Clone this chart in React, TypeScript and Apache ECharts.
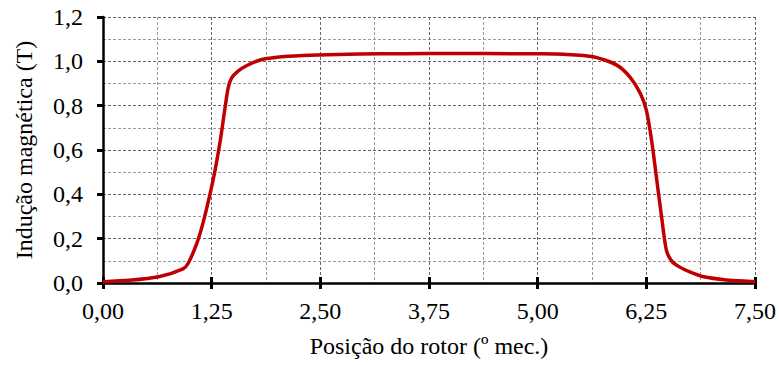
import React, { useEffect, useRef } from "react";
import * as echarts from "echarts";

const positions = [0, 0.3, 0.64, 0.92, 0.98, 1.08, 1.15, 1.23, 1.29, 1.35, 1.4, 1.44, 1.48, 1.55, 1.65, 1.8, 2.0, 2.3, 2.7, 3.2, 3.75, 4.4, 5.0, 5.3, 5.64, 5.91, 6.06, 6.18, 6.25, 6.31, 6.37, 6.43, 6.48, 6.54, 6.62, 6.75, 6.91, 7.17, 7.5];
const induction = [0.006, 0.012, 0.028, 0.064, 0.089, 0.18, 0.27, 0.4, 0.51, 0.645, 0.78, 0.88, 0.925, 0.955, 0.98, 1.005, 1.018, 1.026, 1.031, 1.034, 1.035, 1.035, 1.034, 1.032, 1.021, 0.983, 0.93, 0.856, 0.78, 0.645, 0.465, 0.284, 0.149, 0.1, 0.075, 0.05, 0.028, 0.014, 0.006];

const xTitle = "Posição do rotor (º mec.)";
const yTitle = "Indução magnética (T)";

const FONT = "Liberation Serif";
const FS = 24;

export default function App() {
  const ref = useRef<HTMLDivElement>(null);
  useEffect(() => {
    if (!ref.current) return;
    const chart = echarts.init(ref.current, undefined, { renderer: "svg" });
    const majorSplit = { show: true, lineStyle: { color: "#666", width: 1, type: [3, 2] as any } };
    const minorSplit = { show: true, lineStyle: { color: "#9a9a9a", width: 1, type: [3, 2] as any } };
    chart.setOption({
      animation: false,
      backgroundColor: "#fff",
      textStyle: { fontFamily: FONT },
      grid: { left: 103, right: 24, top: 17, bottom: 82, containLabel: false },
      xAxis: [
        {
          type: "value",
          min: 0,
          max: 7.5,
          interval: 1.25,
          name: xTitle,
          nameLocation: "middle",
          nameGap: 51,
          nameTextStyle: { fontFamily: FONT, fontSize: FS, color: "#000" },
          axisLine: { show: true, lineStyle: { color: "#000", width: 2.5 } },
          axisTick: { show: true, length: 6, lineStyle: { color: "#000", width: 3 } },
          axisLabel: {
            margin: 16,
            fontFamily: FONT,
            fontSize: FS,
            color: "#000",
            formatter: (v: number) => v.toFixed(2).replace(".", ","),
          },
          splitLine: majorSplit,
          minorTick: { show: false, splitNumber: 2 },
          minorSplitLine: minorSplit,
        },
        {
          type: "value",
          min: 0,
          max: 7.5,
          interval: 1.25,
          position: "bottom",
          axisLine: { show: false },
          axisTick: { show: true, inside: true, length: 6, lineStyle: { color: "#000", width: 3 } },
          axisLabel: { show: false },
          splitLine: { show: false },
        },
      ],
      yAxis: {
        type: "value",
        min: 0,
        max: 1.2,
        interval: 0.2,
        name: yTitle,
        nameLocation: "middle",
        nameGap: 67,
        nameTextStyle: { fontFamily: FONT, fontSize: FS, color: "#000" },
        axisLine: { show: true, lineStyle: { color: "#000", width: 2.5 } },
        axisTick: { show: true, length: 6, lineStyle: { color: "#000", width: 3 } },
        axisLabel: {
          margin: 20,
          fontFamily: FONT,
          fontSize: FS,
          color: "#000",
          formatter: (v: number) => v.toFixed(1).replace(".", ","),
        },
        splitLine: majorSplit,
        minorTick: { show: false, splitNumber: 2 },
        minorSplitLine: minorSplit,
      },
      series: [
        {
          type: "line",
          xAxisIndex: 0,
          data: positions.map((x, i) => [x, induction[i]]),
          smooth: 0.25,
          symbol: "none",
          lineStyle: { color: "#c00000", width: 3.5 },
          z: 5,
        },
      ],
    });
    return () => chart.dispose();
  }, []);
  return (
    <div
      ref={ref}
      style={{ position: "fixed", left: 0, top: 0, width: 779, height: 365, background: "#fff" }}
    />
  );
}
